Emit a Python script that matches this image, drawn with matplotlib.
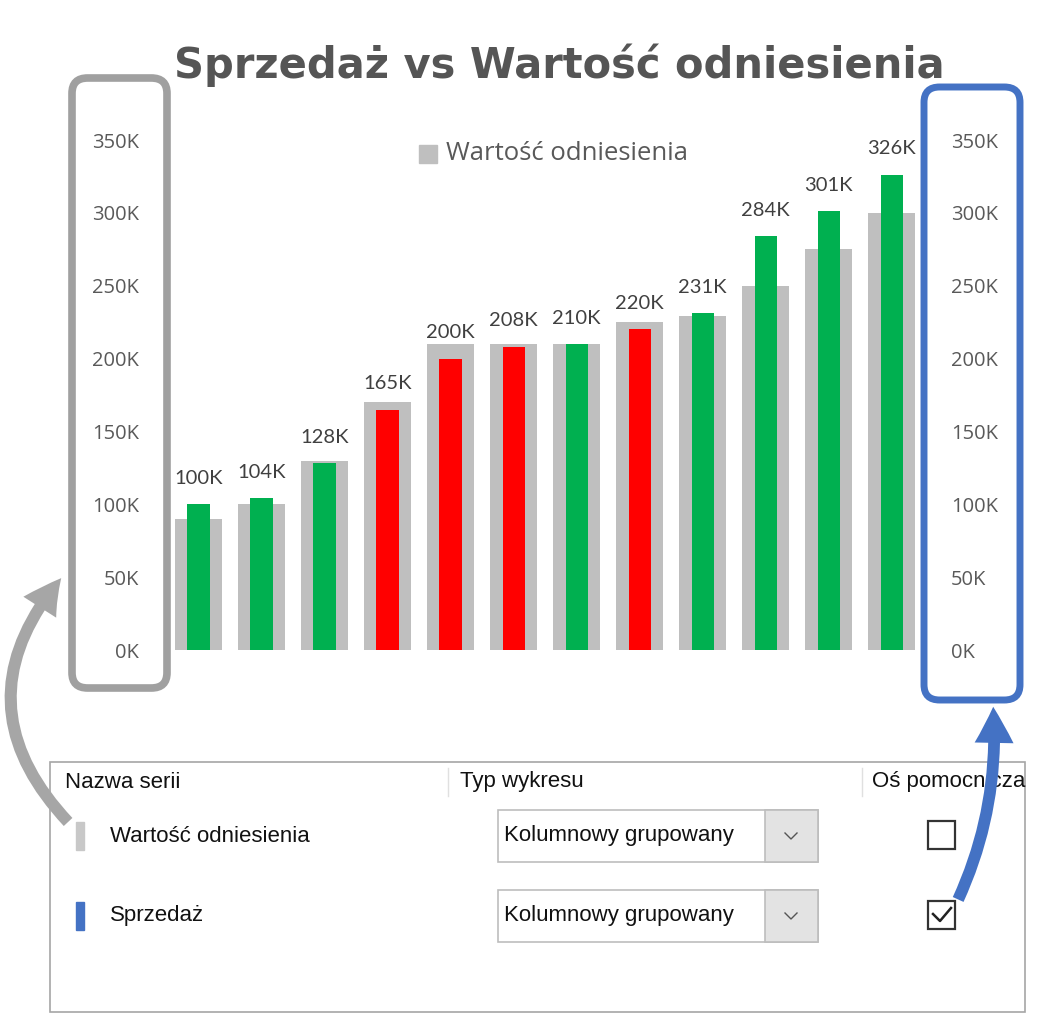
import matplotlib
matplotlib.use("Agg")
from matplotlib import pyplot as plt
from matplotlib.patches import FancyBboxPatch, Rectangle, FancyArrowPatch
from matplotlib.lines import Line2D
import numpy as np

# data
miesiace = list(range(12))
wartosc_odniesienia = [90, 100, 130, 170, 210, 210, 210, 225, 229, 250, 275, 300]  # K
sprzedaz = [100, 104, 128, 165, 200, 208, 210, 220, 231, 284, 301, 326]  # K
# colour of the sales bar as shown in the source (g = green, r = red)
status = ["g", "g", "g", "r", "r", "r", "g", "r", "g", "g", "g", "g"]
y_ticks = [0, 50, 100, 150, 200, 250, 300, 350]

W, H = 1041, 1024
fig = plt.figure(figsize=(W / 100, H / 100), dpi=100)
fig.patch.set_facecolor("white")

def fx(x):
    return x / W

def fy(y):
    return 1 - y / H

FONT = ["Open Sans", "DejaVu Sans"]
NARROW = ["Liberation Sans Narrow", "Liberation Sans", "DejaVu Sans"]

# main axes: pixels 160..930 horizontally, 140..650 vertically
ax = fig.add_axes([fx(160), fy(650), fx(930) - fx(160), fy(140) - fy(650)])
ax2 = ax.twinx()
x = np.array(miesiace)
ax.bar(x, wartosc_odniesienia, width=0.75, color="#bfbfbf", zorder=1)
kolory = ["#00b050" if s == "g" else "#ff0000" for s in status]
ax2.bar(x, sprzedaz, width=0.35, color=kolory, zorder=2)

for a in (ax, ax2):
    a.set_xlim(-0.611, 11.61)
    a.set_ylim(0, 350)
    a.set_yticks(y_ticks)
    a.set_yticklabels([f"{t}K" for t in y_ticks])
    for s in a.spines.values():
        s.set_visible(False)
    a.tick_params(length=0, labelsize=14.5, colors="#595959", pad=15)
    a.set_xticks([])
    for lbl in a.get_yticklabels():
        lbl.set_family(FONT)
ax.patch.set_visible(False)

for xi, s in zip(x, sprzedaz):
    ax2.annotate(f"{s}K", (xi, s), xytext=(0, 26), textcoords="offset pixels",
                 ha="center", va="center", fontsize=14.5, color="#404040",
                 family=["Lato", "DejaVu Sans"])

# title and legend
fig.text(fx(559), fy(65), "Sprzedaż vs Wartość odniesienia", ha="center", va="center",
         fontsize=30, fontweight="bold", color="#555555", family=["DejaVu Sans"])
fig.patches.append(Rectangle((fx(419), fy(163)), fx(18), fy(145) - fy(163),
                             transform=fig.transFigure, color="#bfbfbf"))
fig.text(fx(446), fy(153), "Wartość odniesienia", ha="left", va="center",
         fontsize=18.5, color="#595959", family=FONT)

# rounded frames around the axes
fig.patches.append(FancyBboxPatch((fx(72), fy(688)), fx(95), fy(78) - fy(688),
                                  boxstyle="round,pad=0,rounding_size=0.015",
                                  transform=fig.transFigure, fill=False,
                                  edgecolor="#a0a0a0", lw=5.5))
fig.patches.append(FancyBboxPatch((fx(924), fy(700)), fx(96), fy(87) - fy(700),
                                  boxstyle="round,pad=0,rounding_size=0.015",
                                  transform=fig.transFigure, fill=False,
                                  edgecolor="#4472c4", lw=5))

# bottom panel (series settings)
fig.patches.append(Rectangle((fx(50), fy(1012)), fx(975), fy(762) - fy(1012),
                             transform=fig.transFigure, fill=False,
                             edgecolor="#a6a6a6", lw=1.2))
for xs in (448, 862):
    fig.lines.append(Line2D([fx(xs), fx(xs)], [fy(768), fy(796)],
                            transform=fig.transFigure, color="#e0e0e0", lw=1))
naglowki = ["Nazwa serii", "Typ wykresu", "Oś pomocnicza"]
for txt, xs in zip(naglowki, (65, 460, 872)):
    fig.text(fx(xs), fy(782), txt, ha="left", va="center", fontsize=16,
             color="#111111", family=NARROW)

serie = ["Wartość odniesienia", "Sprzedaż"]
kolory_serii = ["#c8c8c8", "#4472c4"]
wiersze = [836, 916]
for nazwa, kol, yc, zaznaczone in zip(serie, kolory_serii, wiersze, [False, True]):
    fig.patches.append(Rectangle((fx(76), fy(yc + 14)), fx(8), fy(yc - 14) - fy(yc + 14),
                                 transform=fig.transFigure, color=kol))
    fig.text(fx(110), fy(yc), nazwa, ha="left", va="center", fontsize=16,
             color="#111111", family=NARROW)
    # dropdown
    fig.patches.append(Rectangle((fx(498), fy(yc + 26)), fx(320), fy(yc - 26) - fy(yc + 26),
                                 transform=fig.transFigure, facecolor="white",
                                 edgecolor="#bdbdbd", lw=1.2))
    fig.patches.append(Rectangle((fx(765), fy(yc + 26)), fx(53), fy(yc - 26) - fy(yc + 26),
                                 transform=fig.transFigure, facecolor="#e3e3e3",
                                 edgecolor="#bdbdbd", lw=1.2))
    fig.text(fx(504), fy(yc), "Kolumnowy grupowany", ha="left", va="center",
             fontsize=16, color="#111111", family=NARROW)
    fig.lines.append(Line2D([fx(785), fx(791), fx(797)], [fy(yc - 3), fy(yc + 3), fy(yc - 3)],
                            transform=fig.transFigure, color="#555555", lw=1))
    # checkbox
    fig.patches.append(Rectangle((fx(928), fy(yc + 13)), fx(27), fy(yc - 15) - fy(yc + 13),
                                 transform=fig.transFigure, facecolor="white",
                                 edgecolor="#333333", lw=1.6))
    if zaznaczone:
        fig.lines.append(Line2D([fx(933), fx(940), fx(951)], [fy(yc - 2), fy(yc + 5), fy(yc - 8)],
                                transform=fig.transFigure, color="#222222", lw=1.8))

# arrows
strzalka = "simple,head_width=2.8,head_length=2.6,tail_width=0.85"
fig.patches.append(FancyArrowPatch((fx(70), fy(824)), (fx(63), fy(576)),
                                   transform=fig.transFigure,
                                   connectionstyle="arc3,rad=-0.45",
                                   arrowstyle=strzalka, zorder=5,
                                   mutation_scale=10, color="#a6a6a6", lw=0))
fig.patches.append(FancyArrowPatch((fx(957), fy(902)), (fx(993), fy(704)),
                                   transform=fig.transFigure,
                                   connectionstyle="arc3,rad=0.13",
                                   arrowstyle=strzalka, zorder=5,
                                   mutation_scale=10, color="#4472c4", lw=0))

fig.savefig("out.png", dpi=100)
